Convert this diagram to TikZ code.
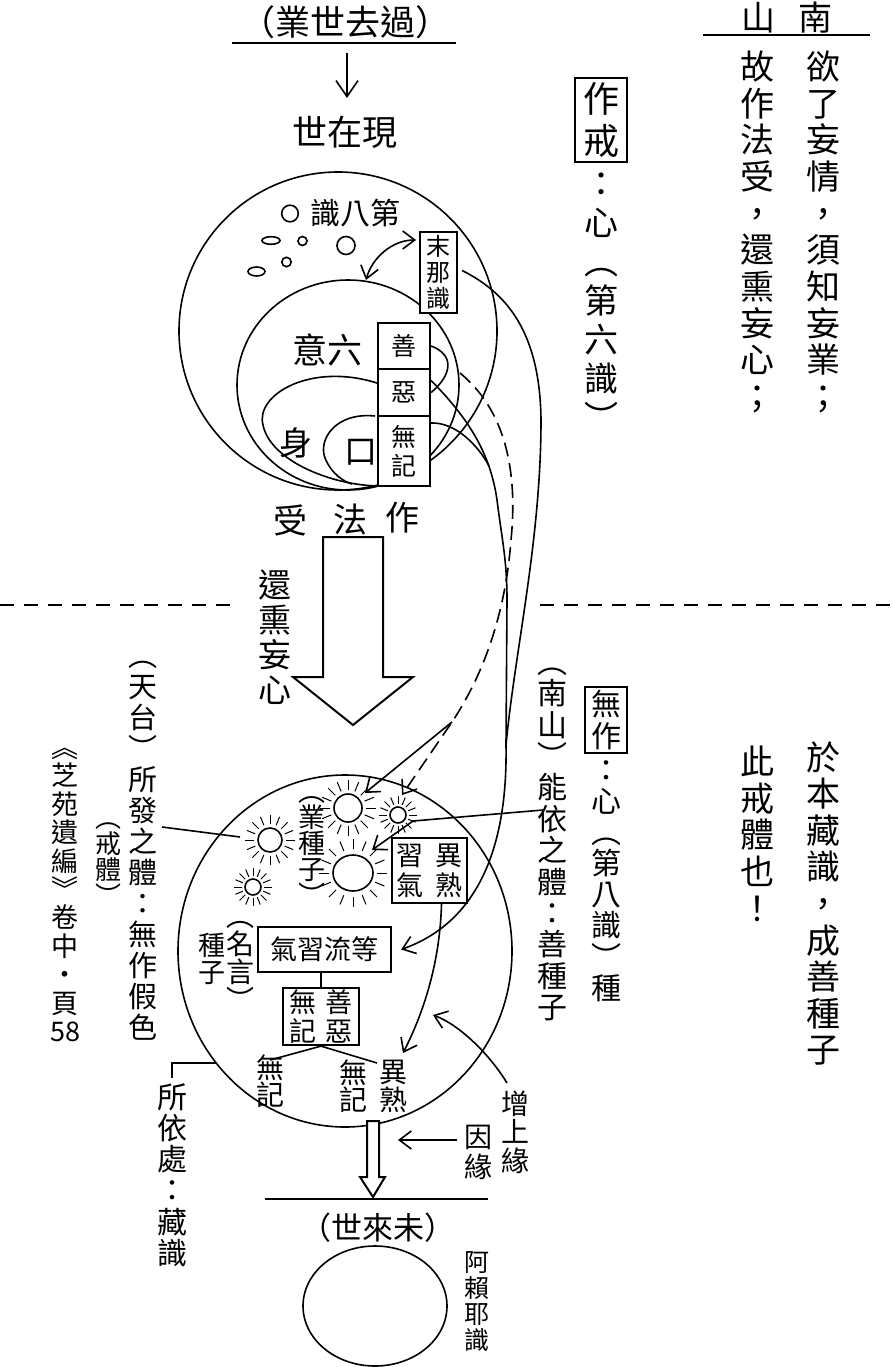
\documentclass[tikz,border=0pt]{standalone}
\usepackage{fontspec}
\setmainfont{Noto Sans CJK TC}
\usetikzlibrary{arrows.meta}
\newcommand{\fz}[2]{\fontsize{#1}{#2}\selectfont}
% a seed drawn as a small sun: centre, x radius, y radius, rays from, rays to
\newcommand{\seed}[5]{%
  \draw (#1) ellipse [x radius=#2, y radius=#3];
  \foreach \a in {0,22.5,...,337.5}
    \draw[ray, shift={(#1)}] (\a:#4) -- (\a:#5);
}
\tikzset{
  col/.style={align=center, inner sep=0pt},
  word/.style={inner sep=0pt},
  cell/.style={draw, line width=2.2pt, fill=white, inner sep=0pt, align=center},
  ray/.style={line width=1pt},
  hollow/.style={draw, line width=2pt, fill=white, line join=miter},
  sep/.style={dash pattern=on 14pt off 10pt, line width=2.5pt},
  hint/.style={dash pattern=on 14pt off 7pt},
}

\begin{document}
\begin{tikzpicture}[x=1pt, y=-1pt, line width=1.6pt,
  >={Straight Barb[length=12pt,width=18pt]}]
\useasboundingbox (0,0) rectangle (892,1367);

% past karma -> present life
\node[word, font=\fz{35}{36}] (past) at (345,22) {（業世去過）};
\coordinate (pastL) at (232,43);
\coordinate (pastR) at (456,43);
\draw (pastL) -- (pastR);
\coordinate (downA) at (347,53);
\coordinate (downB) at (347,98);
\draw[-{Straight Barb[length=16pt,width=22pt]}] (downA) -- (downB);
\node[word, font=\fz{35}{36}] (present) at (345,132) {世在現};

% the eighth consciousness and the sixth
\coordinate (c8) at (338,331);
\draw (c8) circle [radius=159];
\coordinate (c6) at (348,385);
\draw (c6) ellipse [x radius=111, y radius=105];
\node[word, font=\fz{30}{31}] (eighth) at (355,213) {識八第};
\coordinate (g0) at (290,213.5);
\coordinate (g1) at (271,240.5);
\coordinate (g2) at (302.5,241);
\coordinate (g3) at (346,245.5);
\coordinate (g4) at (286.5,262);
\coordinate (g5) at (256.5,271.5);
\draw (g0) circle [radius=8.3];
\draw (g1) ellipse [x radius=9, y radius=3.8];
\draw (g2) circle [radius=4.5];
\draw (g3) circle [radius=9];
\draw (g4) circle [radius=4.7];
\draw (g5) ellipse [x radius=8.5, y radius=4.5];
\node[word, font=\fz{35}{36}] (sixth) at (327,350) {意六};
\node[word, font=\fz{33}{34}] (body) at (296,443) {身};
\node[word, font=\fz{33}{34}] (mouth) at (361,452) {口};

% body and mouth
\coordinate (shen1) at (377,383);
\coordinate (shen2) at (263,425);
\coordinate (shen3) at (378,486);
\draw (shen1) .. controls (310,362) and (255,395) .. (shen2) .. controls (270,460) and (330,485) .. (shen3);
\coordinate (kou1) at (375,416);
\coordinate (kou2) at (325,458);
\coordinate (kou3) at (352,484);
\draw (kou1) .. controls (335,412) and (318,440) .. (kou2) .. controls (332,475) and (345,482) .. (kou3);

% good, evil, neutral and manas
\node[cell, minimum width=52pt, minimum height=46pt, font=\fz{25}{28}] (good) at (404,346) {善};
\node[cell, minimum width=52pt, minimum height=47pt, font=\fz{25}{28}] (evil) at (404,392.5) {惡};
\node[cell, minimum width=52pt, minimum height=70pt, font=\fz{25}{29}] (neutral) at (404,451) {無\\記};
\node[cell, minimum width=37pt, minimum height=81pt, font=\fz{24}{26}] (manas) at (438.5,272.5) {末\\那\\識};
\coordinate (dblA) at (416,240);
\coordinate (dblB) at (366,280);
\draw[<->] (dblA) .. controls (392,240) and (372,258) .. (dblB);

\node[word, font=\fz{34}{35}] (shou) at (290,520) {受};
\node[word, font=\fz{34}{35}] (fa) at (350,520) {法};
\node[word, font=\fz{34}{35}] (zuo) at (402,518) {作};

% separator
\coordinate (sepL0) at (0,605);
\coordinate (sepL1) at (240,605);
\coordinate (sepR0) at (540,605);
\coordinate (sepR1) at (892,605);
\draw[sep] (sepL0) -- (sepL1);
\draw[sep] (sepR0) -- (sepR1);

% big arrow
\draw[hollow] (323,537) -- (383,537) -- (383,677) -- (413,677) -- (353,725) -- (293,677) -- (323,677) -- cycle;
\node[col, font=\fz{33}{35}] (huanxun) at (275,637.5) {還\\熏\\妄\\心};

% store consciousness
\coordinate (c8b) at (345,951);
\draw (c8b) ellipse [x radius=167, y radius=176];
\coordinate (sunA) at (270,840);
\coordinate (sunB) at (348,808);
\coordinate (sunC) at (398,815);
\coordinate (sunD) at (253,887);
\coordinate (sunE) at (353,873);
\seed{sunA}{12}{12}{16}{25}
\seed{sunB}{14}{14}{18}{28}
\seed{sunC}{8}{8}{11}{19}
\seed{sunD}{8}{8}{11}{19}
\seed{sunE}{20}{18}{24}{34}
\node[col, font=\fz{27}{26}] (yezhong) at (312,851) {︵\\業\\種\\子\\︶};
\node[cell, minimum width=75pt, minimum height=65pt, font=\fz{27}{30}] (xiqi) at (429.5,870.5) {習\hspace{12pt}異\\氣\hspace{12pt}熟};
\node[cell, minimum width=133pt, minimum height=45pt, font=\fz{27}{28}] (qixi) at (324.5,949.5) {氣習流等};
\node[col, font=\fz{28}{28}] (mingyan) at (240,966) {︵\\名\\言\\︶};
\node[col, font=\fz{27}{27}] (zhongzi) at (212,958.5) {種\\子};
\node[cell, minimum width=76pt, minimum height=57pt, font=\fz{27}{29}] (wuji) at (321,1016.5) {無\hspace{9pt}善\\記\hspace{9pt}惡};
\draw (qixi.south -| wuji.north) -- (wuji.north);
\coordinate (wjL) at (270,1060);
\coordinate (wjR) at (377,1063);
\draw (wuji.south) -- (wjL);
\draw (wuji.south) -- (wjR);
\node[col, font=\fz{28}{27}] (wujiA) at (270,1081.5) {無\\記};
\node[col, font=\fz{28}{27}] (wujiB) at (353,1086.5) {無\\記};
\node[col, font=\fz{28}{28}] (yishu) at (393,1086) {異\\熟};

% from the sixth to the seeds
\coordinate (dashS) at (460,373);
\coordinate (dashM) at (452,722);
\coordinate (tipC) at (402,795);
\coordinate (tipB) at (365,793);
\draw[hint, ->] (dashS) .. controls (505,410) and (518,470) .. (511,540) .. controls (505,620) and (480,680) .. (dashM) -- (tipC);
\draw[->] (dashM) -- (tipB);
\draw (good.east) .. controls (455,355) and (452,375) .. (evil.east);
\coordinate (join) at (506,745);
\draw ([yshift=12pt]evil.east) .. controls (465,415) and (490,450) .. (497,500) .. controls (502,540) and (507,560) .. (507,600) -- (join);
\draw ([yshift=28pt]neutral.east) .. controls (455,422) and (478,445) .. (489,466);
\draw ([xshift=4pt,yshift=2pt]manas.east) .. controls (505,292) and (540,330) .. (541,420) .. controls (541,540) and (515,650) .. (join);
\draw[->] (join) .. controls (508,860) and (470,925) .. ([xshift=9pt]qixi.east);
\coordinate (tipY) at (403,1053);
\draw[->] ([xshift=12pt]xiqi.south) .. controls (440,960) and (425,1010) .. (tipY);

% pointers from the labels
\coordinate (nsPt) at (543,810);
\coordinate (nsBend) at (413,821);
\coordinate (tipE) at (372,850);
\draw[->] (nsPt) -- (nsBend) -- (tipE);
\coordinate (tdPt) at (162,827);
\coordinate (tdEnd) at (240,837);
\draw (tdPt) -- (tdEnd);
\coordinate (zsA) at (216,1063);
\coordinate (zsB) at (172,1063);
\coordinate (zsC) at (172,1078);
\draw[line width=1.2pt] (zsA) -- (zsB) -- (zsC);
\coordinate (zsyA) at (507,1083);
\coordinate (zsyB) at (433,1015);
\draw[->] (zsyA) .. controls (490,1055) and (460,1025) .. (zsyB);
\coordinate (yyA) at (457,1140);
\coordinate (yyB) at (398,1140);
\draw[->] (yyA) -- (yyB);
\node[col, font=\fz{28}{28.5}] (zengshang) at (515,1132) {增\\上\\緣};
\node[col, font=\fz{28}{30}] (yinyuan) at (478,1152) {因\\緣};

% future life
\draw[hollow] (367,1121) -- (379,1121) -- (379,1177) -- (385,1177) -- (373,1197) -- (360,1177) -- (367,1177) -- cycle;
\coordinate (futL) at (265,1199);
\coordinate (futR) at (488,1199);
\draw (futL) -- (futR);
\node[word, font=\fz{31}{32}] (future) at (378,1228) {（世來未）};
\coordinate (c8f) at (375,1306);
\draw (c8f) ellipse [x radius=72, y radius=60];
\node[col, font=\fz{25}{26}] (alaya) at (477,1301) {阿\\賴\\耶\\識};

% right-hand notes
\node[word, font=\fz{34}{35}] (shan) at (758,18) {山};
\node[word, font=\fz{34}{35}] (nan) at (815,18) {南};
\coordinate (nsL) at (703,35);
\coordinate (nsR) at (870,35);
\draw (nsL) -- (nsR);
\node[col, font=\fz{34}{36.7}] (nanA) at (823,232) {欲\\了\\妄\\情\\，\\須\\知\\妄\\業\\；};
\node[col, font=\fz{34}{36.7}] (nanB) at (757,232) {故\\作\\法\\受\\，\\還\\熏\\妄\\心\\；};
\node[cell, minimum width=52pt, minimum height=84pt, font=\fz{36}{42}] (zuojie) at (601,120) {作\\戒};
\node[col, font=\fz{34}{39}] (zuojieB) at (601,302) {：\\心\\︵\\第\\六\\識\\︶};
\node[cell, minimum width=42pt, minimum height=66pt, font=\fz{30}{32}] (wuzuo) at (606,720) {無\\作};
\node[col, font=\fz{30}{31.1}] (wuzuoB) at (606,881) {：\\心\\︵\\第\\八\\識\\︶\\種};
\node[col, font=\fz{30}{31.4}] (nengyi) at (552,844.5) {︵\\南\\山\\︶\\能\\依\\之\\體\\：\\善\\種\\子};
\node[col, font=\fz{34}{36.6}] (yuben) at (823,903.5) {於\\本\\藏\\識\\，\\成\\善\\種\\子};
\node[col, font=\fz{34}{36.7}] (cijie) at (757,833.5) {此\\戒\\體\\也\\！};

% left-hand notes
\node[col, font=\fz{29}{31}] (tiantai) at (143,851) {︵\\天\\台\\︶\\所\\發\\之\\體\\：\\無\\作\\假\\色};
\node[col, font=\fz{26}{26}] (jieti) at (108,864) {︵\\戒\\體\\︶};
\node[col, font=\fz{27}{28.4}] (source) at (65,895) {︽\\芝\\苑\\遺\\編\\︾\\卷\\中\\・\\頁\\58};
\node[col, font=\fz{30}{31.2}] (suoyi) at (172,1175) {所\\依\\處\\：\\藏\\識};
\end{tikzpicture}
\end{document}
